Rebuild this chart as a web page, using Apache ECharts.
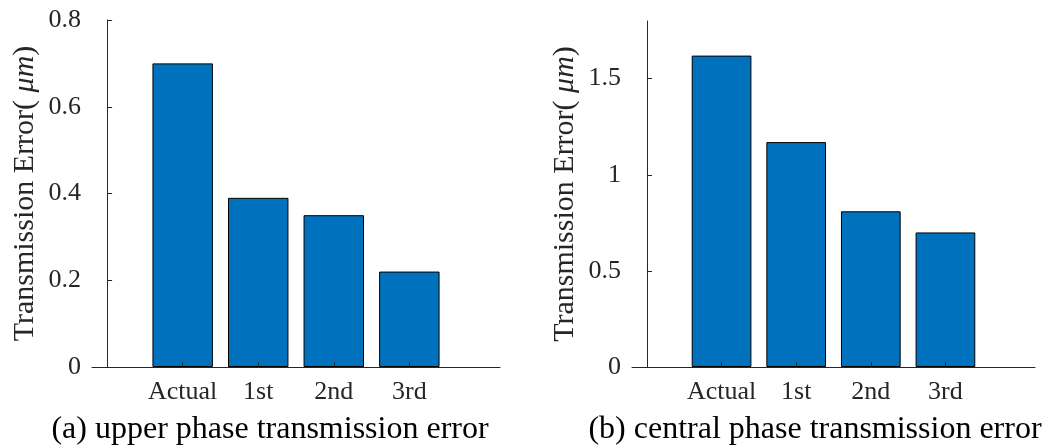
<!DOCTYPE html>
<html>
<head>
<meta charset="utf-8">
<script src="https://cdn.jsdelivr.net/npm/echarts@6/dist/echarts.min.js"></script>
<style>html,body{margin:0;padding:0;background:#fff;}#c{width:1050px;height:448px;}</style>
</head>
<body>
<div id="c"></div>
<script>
var categories = ['Actual', '1st', '2nd', '3rd'];
var upperValues = [0.70, 0.39, 0.35, 0.22];
var centralValues = [1.62, 1.17, 0.81, 0.70];
var upperTicks = [0, 0.2, 0.4, 0.6, 0.8];
var centralTicks = [0, 0.5, 1, 1.5];
var captions = ['(a) upper phase transmission error', '(b) central phase transmission error'];
var yTitle = 'Transmission Error( {it|\u03bcm})';

var FONT = '"Liberation Serif", "Times New Roman", serif';
var AX = '#262626';
var positions = categories.map(function (c, i) { return i + 1; });

function xAxisDef(idx) {
  return {
    type: 'value', gridIndex: idx, min: -0.2, max: 5.2, z: 5,
    axisLine: { show: true, lineStyle: { color: AX, width: 1 } },
    axisTick: { show: true, inside: true, length: 5, customValues: positions, lineStyle: { color: AX } },
    axisLabel: {
      customValues: positions, margin: 12,
      fontFamily: FONT, fontSize: 26, color: AX,
      formatter: function (v) { return categories[Math.round(v) - 1] || ''; }
    },
    splitLine: { show: false }
  };
}
function yAxisDef(idx, max, ticks, gap) {
  return {
    type: 'value', gridIndex: idx, min: 0, max: max,
    name: yTitle, nameLocation: 'middle', nameGap: gap, nameRotate: 90,
    nameTextStyle: { fontFamily: FONT, fontSize: 30, color: AX,
      rich: { it: { fontFamily: FONT, fontSize: 30, fontStyle: 'italic', color: AX } } },
    axisLine: { show: true, lineStyle: { color: AX, width: 1 } },
    axisTick: { show: true, inside: true, length: 5, customValues: ticks, lineStyle: { color: AX } },
    axisLabel: { customValues: ticks, margin: 11, fontFamily: FONT, fontSize: 26, color: AX },
    splitLine: { show: false }
  };
}
function seriesDef(idx, vals) {
  return {
    type: 'bar', xAxisIndex: idx, yAxisIndex: idx,
    data: vals.map(function (v, i) { return [positions[i], v]; }),
    barWidth: '80%',
    itemStyle: { color: '#0072BD', borderColor: '#000', borderWidth: 1 },
    silent: true
  };
}

var chart = echarts.init(document.getElementById('c'), null, { renderer: 'canvas' });
chart.setOption({
  animation: false,
  backgroundColor: '#fff',
  title: [
    { text: captions[0], left: 265, top: 409, textAlign: 'center',
      textStyle: { fontFamily: FONT, fontSize: 32, fontWeight: 'normal', color: '#000' } },
    { text: captions[1], left: 810, top: 409, textAlign: 'center',
      textStyle: { fontFamily: FONT, fontSize: 32, fontWeight: 'normal', color: '#000' } }
  ],
  grid: [
    { left: 92, top: 20, width: 408, height: 347 },
    { left: 632, top: 21, width: 403, height: 346 }
  ],
  xAxis: [xAxisDef(0), xAxisDef(1)],
  yAxis: [yAxisDef(0, 0.8, upperTicks, 52), yAxisDef(1, 1.8, centralTicks, 52)],
  series: [seriesDef(0, upperValues), seriesDef(1, centralValues)]
});
</script>
</body>
</html>
